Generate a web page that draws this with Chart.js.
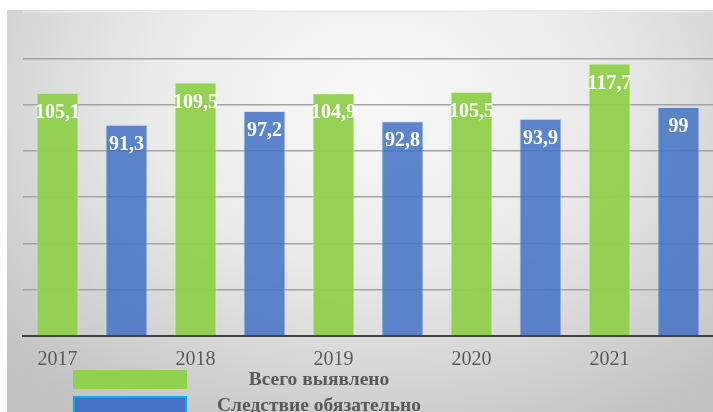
<!DOCTYPE html>
<html>
<head>
<meta charset="utf-8">
<script src="https://cdn.jsdelivr.net/npm/chart.js@4"></script>
<style>
  html, body { margin: 0; padding: 0; background: #ffffff; }
  #wrap { position: relative; width: 713px; height: 412px; overflow: hidden; background: #ffffff; }
  #bg { position: absolute; left: 7px; top: 10px; width: 706px; height: 402px;
        background: radial-gradient(ellipse 72% 95% at 52% 22%, #f9f9f9 0%, #eaeaea 45%, #d0d0d0 80%, #c2c2c2 100%); }
  #c { position: absolute; left: 0; top: 0; }
</style>
</head>
<body>
<div id="wrap">
  <div id="bg"></div>
  <canvas id="c" width="713" height="412"></canvas>
</div>
<script>
// ---- data ----
const years = ['2017', '2018', '2019', '2020', '2021'];
const totalDetected = [105.1, 109.5, 104.9, 105.5, 117.7];   // Всего выявлено
const investigationRequired = [91.3, 97.2, 92.8, 93.9, 99];  // Следствие обязательно
const seriesNames = ['Всего выявлено', 'Следствие обязательно'];
const yTicks = [0, 20, 40, 60, 80, 100, 120, 140];

// Build 10 slots: each year followed by an unlabeled slot
const slotLabels = [];
const greenData = [];
const blueData = [];
years.forEach((y, i) => {
  slotLabels.push(y); greenData.push(totalDetected[i]); blueData.push(null);
  slotLabels.push(''); greenData.push(null); blueData.push(investigationRequired[i]);
});

const GREEN = 'rgba(146,208,80,0.97)';
const BLUE = 'rgba(68,114,196,0.86)';
const serif = '"Liberation Serif", "Times New Roman", "DejaVu Serif", serif';

const valueLabels = {
  id: 'valueLabels',
  afterDatasetsDraw(chart) {
    const ctx = chart.ctx;
    ctx.save();
    ctx.fillStyle = '#ffffff';
    ctx.font = 'bold 20px ' + serif;
    ctx.textAlign = 'center';
    ctx.textBaseline = 'middle';
    chart.data.datasets.forEach((ds, di) => {
      const meta = chart.getDatasetMeta(di);
      meta.data.forEach((el, i) => {
        const v = ds.data[i];
        if (v === null || v === undefined) return;
        ctx.fillText(String(v).replace('.', ','), el.x, el.y + 20);
      });
    });
    ctx.restore();
  }
};

const customLegend = {
  id: 'customLegend',
  afterDraw(chart) {
    const ctx = chart.ctx;
    ctx.save();
    const rows = [
      { y: 370, fill: '#92D050', stroke: null },
      { y: 396, fill: '#4472C4', stroke: '#00B0F0' }
    ];
    chart.data.datasets.forEach((ds, i) => {
      const r = rows[i];
      ctx.fillStyle = r.fill;
      ctx.fillRect(73, r.y, 114, 19);
      if (r.stroke) {
        ctx.strokeStyle = r.stroke;
        ctx.lineWidth = 2;
        ctx.strokeRect(74, r.y + 1, 112, 17);
      }
      ctx.fillStyle = '#595959';
      ctx.font = 'bold 19.5px ' + serif;
      ctx.textAlign = 'center';
      ctx.textBaseline = 'middle';
      ctx.fillText(ds.label, 319, r.y + 10);
    });
    ctx.restore();
  }
};

new Chart(document.getElementById('c'), {
  type: 'bar',
  data: {
    labels: slotLabels,
    datasets: [
      { label: seriesNames[0], data: greenData, backgroundColor: GREEN,
        borderColor: 'rgba(220,245,200,0.7)', borderWidth: 1 },
      { label: seriesNames[1], data: blueData, backgroundColor: BLUE,
        borderColor: 'rgba(200,215,245,0.6)', borderWidth: 1 }
    ]
  },
  options: {
    responsive: false,
    animation: false,
    layout: { padding: { left: 23, right: 0, top: 12, bottom: 28 } },
    plugins: {
      legend: { display: false },
      tooltip: { enabled: false }
    },
    datasets: { bar: { grouped: false, categoryPercentage: 1, barPercentage: 0.61 } },
    scales: {
      x: {
        grid: { display: false, drawTicks: false },
        border: { display: true, color: '#404040', width: 2 },
        ticks: {
          autoSkip: false, maxRotation: 0, padding: 12,
          color: '#595959', font: { family: serif, size: 20 }
        }
      },
      y: {
        min: 0, max: 140,
        afterBuildTicks(axis) { axis.ticks = yTicks.map(v => ({ value: v })); },
        ticks: { display: false },
        border: { display: false },
        grid: {
          drawTicks: false,
          lineWidth: 1.5,
          color: (c) => (c.tick && c.tick.value === 140) ? 'rgba(235,235,235,0.9)' : '#a3a3a3'
        }
      }
    }
  },
  plugins: [valueLabels, customLegend]
});
</script>
</body>
</html>
